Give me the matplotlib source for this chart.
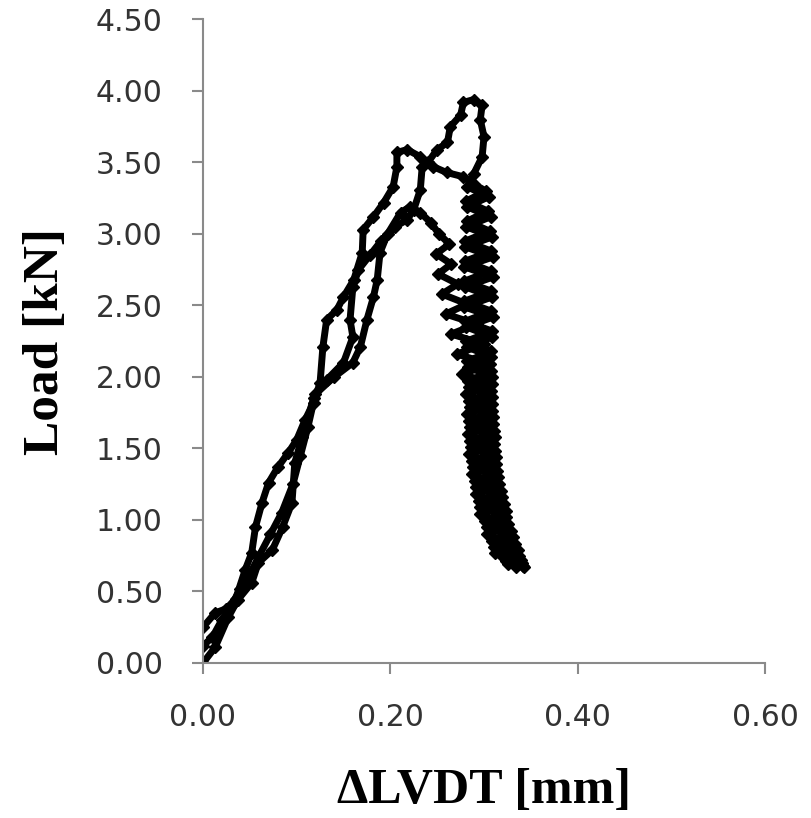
import matplotlib.pyplot as plt

# test 1 (outer left branch, peak ~3.6)
x1 = [0.000, 0.013, 0.025, 0.035, 0.045, 0.052, 0.056, 0.063, 0.070, 0.080, 0.091, 0.100,
      0.109, 0.118, 0.125, 0.128, 0.132, 0.143, 0.150, 0.161, 0.170, 0.171, 0.182, 0.193,
      0.203, 0.207, 0.207, 0.218, 0.232, 0.246, 0.260, 0.278, 0.289,
      0.302, 0.281, 0.304, 0.282, 0.306, 0.280, 0.308, 0.280, 0.307, 0.279, 0.308, 0.279,
      0.308, 0.280, 0.309, 0.281, 0.308, 0.282, 0.307, 0.283, 0.308, 0.284, 0.309, 0.284,
      0.311, 0.285, 0.312, 0.287, 0.314, 0.290, 0.318, 0.295, 0.323, 0.301, 0.329, 0.309,
      0.336, 0.320, 0.341, 0.334]
y1 = [0.25, 0.35, 0.38, 0.45, 0.65, 0.77, 0.95, 1.12, 1.26, 1.37, 1.47, 1.56,
      1.70, 1.82, 1.96, 2.21, 2.40, 2.47, 2.56, 2.68, 2.87, 3.03, 3.12, 3.22,
      3.33, 3.47, 3.57, 3.59, 3.54, 3.47, 3.43, 3.40, 3.35,
      3.30, 3.23, 3.16, 3.09, 3.02, 2.95, 2.88, 2.81, 2.74, 2.67, 2.60, 2.53,
      2.46, 2.39, 2.32, 2.25, 2.18, 2.11, 2.04, 1.97, 1.90, 1.83, 1.76, 1.69,
      1.62, 1.55, 1.48, 1.41, 1.34, 1.27, 1.20, 1.13, 1.06, 0.99, 0.92, 0.85,
      0.79, 0.74, 0.70, 0.67]

# test 2 (peak ~3.9)
x2 = [0.000, 0.013, 0.027, 0.037, 0.052, 0.059, 0.074, 0.085, 0.095, 0.098, 0.106, 0.118,
      0.132, 0.150, 0.160, 0.157, 0.160, 0.166, 0.178, 0.190, 0.205, 0.218, 0.225, 0.232,
      0.234, 0.240, 0.250, 0.261, 0.264, 0.275, 0.278, 0.289, 0.298, 0.296, 0.300, 0.298,
      0.289,
      0.282, 0.305, 0.282, 0.307, 0.281, 0.309, 0.280, 0.310, 0.279, 0.310, 0.280, 0.309,
      0.279, 0.310, 0.281, 0.309, 0.282, 0.308, 0.283, 0.309, 0.284, 0.309, 0.285, 0.310,
      0.285, 0.312, 0.286, 0.313, 0.288, 0.315, 0.291, 0.319, 0.296, 0.324, 0.303, 0.331,
      0.311, 0.337, 0.324, 0.342]
y2 = [0.00, 0.11, 0.32, 0.44, 0.56, 0.70, 0.79, 0.95, 1.12, 1.40, 1.58, 1.85,
      1.98, 2.10, 2.28, 2.40, 2.63, 2.75, 2.85, 2.95, 3.05, 3.10, 3.17, 3.31,
      3.47, 3.50, 3.59, 3.64, 3.75, 3.83, 3.92, 3.94, 3.90, 3.80, 3.68, 3.54,
      3.42,
      3.33, 3.26, 3.19, 3.12, 3.05, 2.98, 2.91, 2.84, 2.77, 2.70, 2.63, 2.56,
      2.49, 2.42, 2.35, 2.28, 2.21, 2.14, 2.07, 2.00, 1.93, 1.86, 1.79, 1.72,
      1.65, 1.58, 1.51, 1.44, 1.37, 1.30, 1.23, 1.16, 1.09, 1.02, 0.95, 0.88,
      0.81, 0.75, 0.71, 0.68]

# test 3 (peak ~3.2)
x3 = [0.000, 0.010, 0.020, 0.030, 0.040, 0.050, 0.060, 0.072, 0.084, 0.096, 0.104, 0.112,
      0.120, 0.140, 0.160, 0.168, 0.175, 0.182, 0.186, 0.189, 0.197, 0.211, 0.221, 0.232,
      0.243, 0.252, 0.263, 0.249, 0.265, 0.251, 0.272, 0.255, 0.282, 0.259, 0.292, 0.265,
      0.300, 0.271, 0.306, 0.277, 0.309, 0.281, 0.309, 0.282, 0.310, 0.283, 0.311, 0.284,
      0.313, 0.287, 0.316, 0.291, 0.321, 0.296, 0.326, 0.303, 0.333, 0.312, 0.339, 0.326,
      0.343]
y3 = [0.12, 0.18, 0.30, 0.40, 0.52, 0.62, 0.75, 0.90, 1.05, 1.25, 1.45, 1.65,
      1.88, 2.00, 2.10, 2.21, 2.40, 2.56, 2.68, 2.87, 3.00, 3.15, 3.19, 3.15,
      3.08, 3.00, 2.93, 2.86, 2.79, 2.72, 2.65, 2.58, 2.51, 2.44, 2.37, 2.30,
      2.23, 2.16, 2.09, 2.02, 1.95, 1.88, 1.81, 1.74, 1.67, 1.60, 1.53, 1.46,
      1.39, 1.32, 1.25, 1.18, 1.11, 1.04, 0.97, 0.90, 0.83, 0.77, 0.72, 0.69,
      0.67]

x_ticks = [0.0, 0.2, 0.4, 0.6]
y_ticks = [0.0, 0.5, 1.0, 1.5, 2.0, 2.5, 3.0, 3.5, 4.0, 4.5]

fig = plt.figure(figsize=(8.11, 8.18), dpi=100)
ax = fig.add_axes([0.2503, 0.1895, 0.693, 0.7867])

for xs, ys in [(x1, y1), (x2, y2), (x3, y3)]:
    ax.plot(xs, ys, color='black', lw=5, marker='D', ms=6.5, solid_joinstyle='round')

ax.set_xlim(0, 0.6)
ax.set_ylim(0, 4.5)
ax.set_xticks(x_ticks)
ax.set_yticks(y_ticks)
ax.set_xticklabels(['%.2f' % v for v in x_ticks])
ax.set_yticklabels(['%.2f' % v for v in y_ticks])

for s in ['top', 'right']:
    ax.spines[s].set_visible(False)
for s in ['left', 'bottom']:
    ax.spines[s].set_color('#8a8a8a')
    ax.spines[s].set_linewidth(1.5)
ax.tick_params(direction='out', length=8, width=1.5, color='#8a8a8a',
               labelsize=21.5, labelcolor='#333333', pad=21)

ax.set_xlabel('ΔLVDT [mm]', fontfamily='Liberation Serif', fontweight='bold',
              fontsize=36, labelpad=26)
ax.set_ylabel('Load [kN]', fontfamily='Liberation Serif', fontweight='bold',
              fontsize=37, labelpad=19)

fig.savefig('out.png', dpi=100)
